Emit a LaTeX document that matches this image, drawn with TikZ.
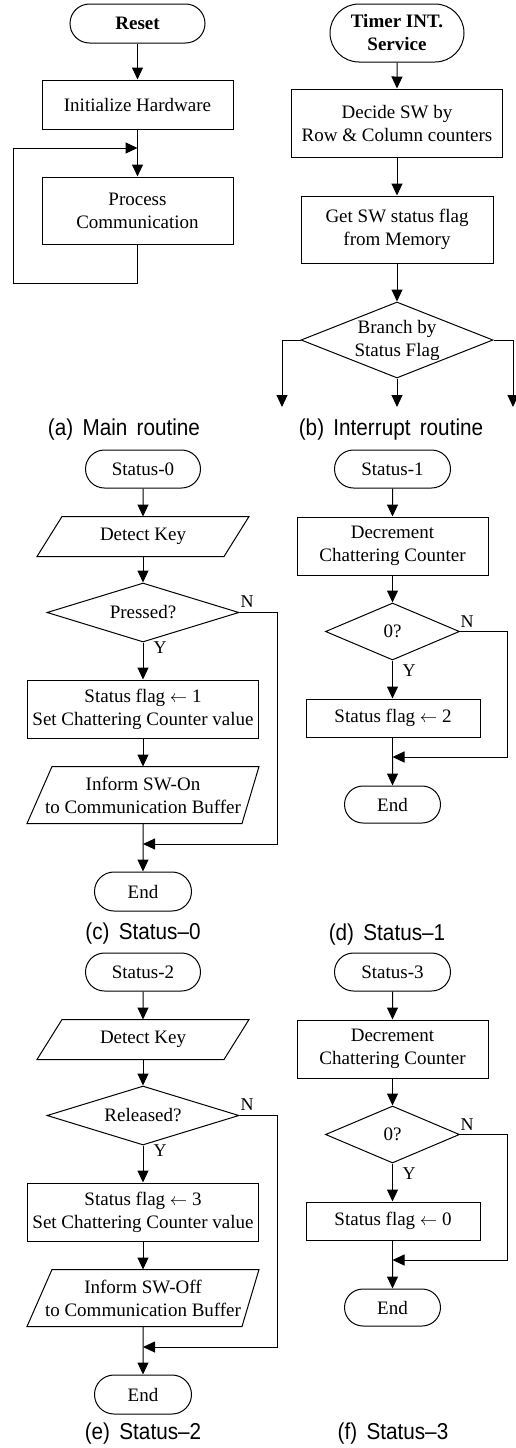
\documentclass[tikz,border=0pt]{standalone}
\usepackage{fontspec}
\setmainfont{Liberation Serif}
\newfontfamily\capfont{Liberation Sans}
\usetikzlibrary{arrows.meta,shapes.geometric,shapes.misc}
\newcommand\drawio[5]{\draw[ln] ([xshift=#2pt]#1.north west) -- ([xshift=#3pt]#1.north east) -- ([xshift=#4pt]#1.south east) -- ([xshift=#5pt]#1.south west) -- cycle;}
\tikzset{
 base/.style={font=\fontsize{19}{23}\selectfont, align=center, inner sep=0pt, line width=1pt},
 term/.style={base, draw, rounded rectangle},
 bterm/.style={term, font=\fontsize{19}{23}\selectfont\bfseries},
 pbox/.style={base, draw, rectangle},
 dec/.style={base, draw, diamond, aspect=2.5},
 iox/.style={base, rectangle},
 arr/.style={line width=1pt, -{Triangle[length=12pt,width=11pt]}},
 ln/.style={line width=1pt},
 yn/.style={font=\fontsize{18}{20}\selectfont, inner sep=0pt},
 captxt/.style={font=\capfont\fontsize{23}{26}\selectfont, inner sep=0pt},
 sz/.style 2 args={minimum width=#1pt, minimum height=#2pt},
}
\begin{document}
\begin{tikzpicture}[x=1pt,y=-1pt]
\useasboundingbox (0,0) rectangle (515,1448);
% ---------- (a) Main routine
\node[bterm,sz={135}{39}] (reset) at (137.5,23.5) {Reset};
\node[pbox,sz={191}{49}] (init) at (137.5,104.5) {Initialize Hardware};
\node[pbox,sz={191}{67}] (proc) at (137.5,210.5) {Process\\Communication};
\coordinate (loopin) at (137.5,148);
\coordinate (loopc) at (13,283);
\draw[arr] (reset) -- (init);
\draw[arr] (init) -- (proc);
\draw[arr] (proc.south) |- (loopc) |- (loopin);
\node[captxt] (capa) at (124,430) {\scalebox{0.9}[1]{(a)\hspace{0.45em}Main\hspace{0.45em}routine}};
% ---------- (b) Interrupt routine
\node[bterm,sz={134}{58}] (timer) at (397,33) {Timer INT.\\Service};
\node[pbox,sz={211}{68}] (decide) at (397,123) {Decide SW by\\Row \& Column counters};
\node[pbox,sz={192}{67}] (getsw) at (397,229.5) {Get SW status flag\\from Memory};
\node[dec,sz={192}{76}] (branch) at (397,340) {Branch by\\Status Flag};
\coordinate (bl) at (282,407);
\coordinate (bc) at (397,407);
\coordinate (br) at (513,407);
\draw[arr] (timer) -- (decide);
\draw[arr] (decide) -- (getsw);
\draw[arr] (getsw) -- (branch);
\draw[arr] (branch.west) -| (bl);
\draw[arr] (branch.south) -- (bc);
\draw[arr] (branch.east) -| (br);
\node[captxt] (capb) at (391,430) {\scalebox{0.9}[1]{(b)\hspace{0.45em}Interrupt\hspace{0.45em}routine}};
% ---------- (c) Status-0
\node[term,sz={115}{38}] (s0) at (143,469) {Status-0};
\node[iox,sz={211}{39}] (dk0) at (143,536.5) {Detect Key};
\drawio{dk0}{25}{0}{-25}{0}
\node[dec,sz={192}{59}] (pr0) at (143,612.5) {Pressed?};
\node[pbox,sz={231}{58}] (f1) at (143,709) {Status flag $\leftarrow$ 1\\Set Chattering Counter value};
\node[iox,sz={231}{56}] (inf0) at (143,795) {Inform SW-On\\to Communication Buffer};
\drawio{inf0}{25}{0}{-17}{0}
\node[term,sz={97}{39}] (e0) at (143,891.5) {End};
\coordinate (m0) at (143,844);
\coordinate (c0) at (277,844);
\draw[arr] (s0) -- (dk0);
\draw[arr] (dk0) -- (pr0);
\draw[arr] (pr0) -- (f1);
\draw[arr] (f1) -- (inf0);
\draw[arr] (inf0) -- (e0);
\draw[arr] (pr0.east) -| (c0) -- (m0);
\node[yn] (y0) at (160,648) {Y};
\node[yn] (n0) at (247,602) {N};
\node[captxt] (capc) at (143,934) {\scalebox{0.9}[1]{(c)\hspace{0.45em}Status–0}};
% ---------- (d) Status-1
\node[term,sz={116}{38}] (s1) at (392.5,469) {Status-1};
\node[pbox,sz={191}{58}] (dc1) at (392.5,546) {Decrement\\Chattering Counter};
\node[dec,sz={134}{57}] (z1) at (392.5,631.5) {0?};
\node[pbox,sz={174}{38}] (f2) at (393,718) {Status flag $\leftarrow$ 2};
\node[term,sz={96}{37}] (e1) at (392.5,804.5) {End};
\coordinate (m1) at (392.5,757);
\coordinate (c1) at (507,757);
\draw[arr] (s1) -- (dc1);
\draw[arr] (dc1) -- (z1);
\draw[arr] (z1) -- (dc1 |- f2.north);
\draw[ln] (dc1 |- f2.south) -- (m1);
\draw[arr] (m1) -- (e1);
\draw[arr] (z1.east) -| (c1) -- (m1);
\node[yn] (y1) at (409,671) {Y};
\node[yn] (n1) at (467,622) {N};
\node[captxt] (capd) at (387,935) {\scalebox{0.9}[1]{(d)\hspace{0.45em}Status–1}};
% ---------- (e) Status-2
\node[term,sz={115}{38}] (s2) at (143,972) {Status-2};
\node[iox,sz={211}{39}] (dk2) at (143,1039.5) {Detect Key};
\drawio{dk2}{25}{0}{-25}{0}
\node[dec,sz={192}{59}] (rl2) at (143,1115.5) {Released?};
\node[pbox,sz={231}{58}] (f3) at (143,1212) {Status flag $\leftarrow$ 3\\Set Chattering Counter value};
\node[iox,sz={231}{56}] (inf2) at (143,1298) {Inform SW-Off\\to Communication Buffer};
\drawio{inf2}{25}{0}{-17}{0}
\node[term,sz={97}{39}] (e2) at (143,1394.5) {End};
\coordinate (m2) at (143,1347);
\coordinate (c2) at (277,1347);
\draw[arr] (s2) -- (dk2);
\draw[arr] (dk2) -- (rl2);
\draw[arr] (rl2) -- (f3);
\draw[arr] (f3) -- (inf2);
\draw[arr] (inf2) -- (e2);
\draw[arr] (rl2.east) -| (c2) -- (m2);
\node[yn] (y2) at (160,1151) {Y};
\node[yn] (n2) at (247,1105) {N};
\node[captxt] (cape) at (143,1434) {\scalebox{0.9}[1]{(e)\hspace{0.45em}Status–2}};
% ---------- (f) Status-3
\node[term,sz={116}{38}] (s3) at (392.5,972) {Status-3};
\node[pbox,sz={191}{58}] (dc3) at (392.5,1049) {Decrement\\Chattering Counter};
\node[dec,sz={134}{57}] (z3) at (392.5,1134.5) {0?};
\node[pbox,sz={174}{38}] (f0) at (393,1221) {Status flag $\leftarrow$ 0};
\node[term,sz={96}{37}] (e3) at (392.5,1307.5) {End};
\coordinate (m3) at (392.5,1260);
\coordinate (c3) at (507,1260);
\draw[arr] (s3) -- (dc3);
\draw[arr] (dc3) -- (z3);
\draw[arr] (z3) -- (dc3 |- f0.north);
\draw[ln] (dc3 |- f0.south) -- (m3);
\draw[arr] (m3) -- (e3);
\draw[arr] (z3.east) -| (c3) -- (m3);
\node[yn] (y3) at (409,1174) {Y};
\node[yn] (n3) at (467,1125) {N};
\node[captxt] (capf) at (393,1434) {\scalebox{0.9}[1]{(f)\hspace{0.45em}Status–3}};
\end{tikzpicture}
\end{document}
